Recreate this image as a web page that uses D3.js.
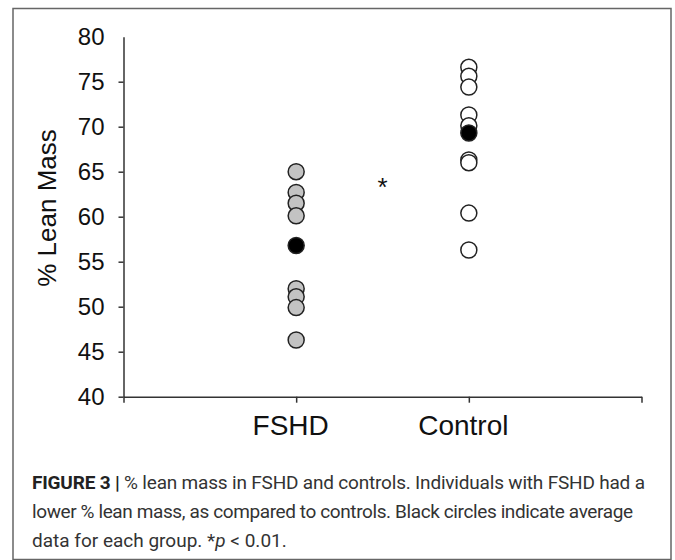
<!DOCTYPE html>
<html>
<head>
<meta charset="utf-8">
<script src="https://cdn.jsdelivr.net/npm/d3@7"></script>
<style>
  html, body { margin: 0; padding: 0; background: #fff; }
  svg { display: block; }
</style>
</head>
<body>
<svg id="chart" width="675" height="560"></svg>
<script>
// THE DATA
const groups = ['FSHD', 'Control'];
const groupPos = [1, 2];
const fshdValues = [65.0, 62.7, 61.5, 60.1, 52.0, 51.1, 49.9, 46.3];
const fshdMean = 56.8;
const controlValues = [76.6, 75.6, 74.4, 71.3, 70.1, 66.3, 66.0, 60.4, 56.3];
const controlMean = 69.3;
const yTicks = [40, 45, 50, 55, 60, 65, 70, 75, 80];
const captionLines = [
  'lower % lean mass, as compared to controls. Black circles indicate average',
  'data for each group. '
];

// SETTING UP
const svg = d3.select('#chart');
const font = '"Liberation Sans", Arial, Helvetica, sans-serif';

// box round the figure
svg.append('rect')
  .attr('x', 13).attr('y', 8.5)
  .attr('width', 658).attr('height', 551)
  .attr('fill', 'none')
  .attr('stroke', '#666')
  .attr('stroke-width', 1.5);

const x = d3.scaleLinear().domain([0, 3]).range([123.5, 641.5]);
const y = d3.scaleLinear().domain([40, 80]).range([396.7, 36.7]);

// y axis
const yAxis = svg.append('g')
  .attr('transform', 'translate(123.5,0)')
  .call(d3.axisLeft(y).tickValues(yTicks).tickSize(5).tickPadding(14).tickSizeOuter(0));
yAxis.selectAll('.tick').filter(d => d === 80).select('line').remove();

// x axis
const xAxis = svg.append('g')
  .attr('transform', 'translate(0,396.7)')
  .call(d3.axisBottom(x).tickValues([0, 1, 2, 3]).tickSize(6).tickPadding(12).tickSizeOuter(0)
    .tickFormat(d => groups[groupPos.indexOf(d)] || ''));

svg.selectAll('.domain, .tick line')
  .attr('stroke', '#333')
  .attr('stroke-width', 1.5);

yAxis.selectAll('text')
  .attr('font-family', font).attr('font-size', 24).attr('fill', '#111');
xAxis.selectAll('text')
  .attr('font-family', font).attr('font-size', 28).attr('fill', '#111')
  .attr('dx', -6);

// y label
svg.append('text')
  .attr('transform', 'translate(56,208) rotate(-90)')
  .attr('text-anchor', 'middle')
  .attr('font-family', font).attr('font-size', 26).attr('fill', '#111')
  .text('% Lean Mass');

// points
function drawGroup(values, pos, fill) {
  svg.append('g')
    .selectAll('circle')
    .data(values)
    .join('circle')
    .attr('cx', x(pos))
    .attr('cy', d => y(d))
    .attr('r', 8)
    .attr('fill', fill)
    .attr('stroke', '#222')
    .attr('stroke-width', 1.5);
}
drawGroup(fshdValues, groupPos[0], '#c3c3c3');
drawGroup([fshdMean], groupPos[0], '#000');
drawGroup(controlValues, groupPos[1], '#fff');
drawGroup([controlMean], groupPos[1], '#000');

// significance mark
svg.append('text')
  .attr('x', x(1.5)).attr('y', 196)
  .attr('text-anchor', 'middle')
  .attr('font-family', font).attr('font-size', 26).attr('fill', '#111')
  .text('*');

// CAPTION
const capFont = 'Roboto, "Liberation Sans", sans-serif';
const cap1 = svg.append('text')
  .attr('x', 32).attr('y', 489)
  .attr('font-family', capFont).attr('font-size', 19).attr('fill', '#333')
  .attr('textLength', 613).attr('lengthAdjust', 'spacing');
cap1.append('tspan').attr('font-weight', 'bold').attr('fill', '#222').text('FIGURE 3 | ');
cap1.append('tspan').text('% lean mass in FSHD and controls. Individuals with FSHD had a');

svg.append('text')
  .attr('x', 32).attr('y', 518)
  .attr('font-family', capFont).attr('font-size', 19).attr('fill', '#333')
  .attr('textLength', 601).attr('lengthAdjust', 'spacing')
  .text(captionLines[0]);

const cap3 = svg.append('text')
  .attr('x', 32).attr('y', 547)
  .attr('font-family', capFont).attr('font-size', 19).attr('fill', '#333');
cap3.append('tspan').text(captionLines[1] + '*');
cap3.append('tspan').attr('font-style', 'italic').text('p');
cap3.append('tspan').text(' < 0.01.');
</script>
</body>
</html>
